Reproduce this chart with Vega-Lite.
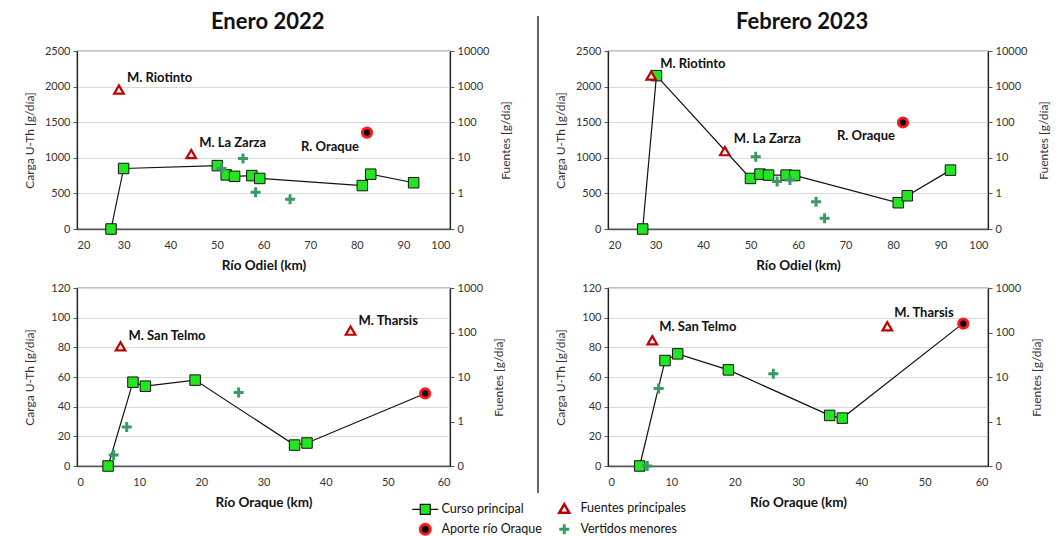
{
  "$schema": "https://vega.github.io/schema/vega-lite/v6.json",
  "padding": {"left": 22, "top": 11, "right": 0, "bottom": 0},
  "config": {
    "font": "Lato",
    "view": {"stroke": "#111", "strokeWidth": 1.2},
    "axis": {"labelFont": "Lato", "labelFontSize": 11, "labelColor": "#333", "titleFont": "Lato", "titleColor": "#333", "domainColor": "#595959", "tickColor": "#595959", "gridColor": "#d9d9d9", "titleFontWeight": "normal", "titleFontSize": 12, "labelOverlap": false},
    "axisX": {"ticks": false, "grid": false, "labelPadding": 10, "titleFontWeight": "bold", "titleFontSize": 13.5, "titleColor": "#111", "domainWidth": 1.6, "titlePadding": 8},
    "axisY": {"tickSize": 4, "labelPadding": 3, "domainColor": "#222", "domainWidth": 1.2},
    "point": {"opacity": 1}
  },
  "datasets": {
    "curso": [
      {"panel": "A", "km": 27.3, "carga": 0, "serie": "Curso principal"},
      {"panel": "A", "km": 30, "carga": 850, "serie": "Curso principal"},
      {"panel": "A", "km": 50.1, "carga": 890, "serie": "Curso principal"},
      {"panel": "A", "km": 52, "carga": 760, "serie": "Curso principal"},
      {"panel": "A", "km": 53.8, "carga": 740, "serie": "Curso principal"},
      {"panel": "A", "km": 57.5, "carga": 750, "serie": "Curso principal"},
      {"panel": "A", "km": 59.2, "carga": 710, "serie": "Curso principal"},
      {"panel": "A", "km": 81.2, "carga": 610, "serie": "Curso principal"},
      {"panel": "A", "km": 83, "carga": 770, "serie": "Curso principal"},
      {"panel": "A", "km": 92.2, "carga": 650, "serie": "Curso principal"},
      {"panel": "C", "km": 27.3, "carga": 0, "serie": "Curso principal"},
      {"panel": "C", "km": 30.2, "carga": 2154, "serie": "Curso principal"},
      {"panel": "C", "km": 50, "carga": 710, "serie": "Curso principal"},
      {"panel": "C", "km": 52, "carga": 771, "serie": "Curso principal"},
      {"panel": "C", "km": 53.8, "carga": 757, "serie": "Curso principal"},
      {"panel": "C", "km": 57.5, "carga": 757, "serie": "Curso principal"},
      {"panel": "C", "km": 59.3, "carga": 752, "serie": "Curso principal"},
      {"panel": "C", "km": 81.1, "carga": 369, "serie": "Curso principal"},
      {"panel": "C", "km": 83, "carga": 467, "serie": "Curso principal"},
      {"panel": "C", "km": 92.1, "carga": 827, "serie": "Curso principal"},
      {"panel": "B", "km": 5, "carga": 0, "serie": "Curso principal"},
      {"panel": "B", "km": 9, "carga": 56.5, "serie": "Curso principal"},
      {"panel": "B", "km": 11, "carga": 53.8, "serie": "Curso principal"},
      {"panel": "B", "km": 19, "carga": 57.9, "serie": "Curso principal"},
      {"panel": "B", "km": 35, "carga": 14.1, "serie": "Curso principal"},
      {"panel": "B", "km": 37, "carga": 15.5, "serie": "Curso principal"},
      {"panel": "B", "km": 56, "carga": 48.9, "serie": "Aporte río Oraque"},
      {"panel": "D", "km": 5, "carga": 0, "serie": "Curso principal"},
      {"panel": "D", "km": 9, "carga": 71.1, "serie": "Curso principal"},
      {"panel": "D", "km": 11, "carga": 75.6, "serie": "Curso principal"},
      {"panel": "D", "km": 19, "carga": 64.8, "serie": "Curso principal"},
      {"panel": "D", "km": 35, "carga": 34.1, "serie": "Curso principal"},
      {"panel": "D", "km": 37, "carga": 32.3, "serie": "Curso principal"},
      {"panel": "D", "km": 56, "carga": 96, "serie": "Aporte río Oraque"}
    ],
    "fuentes": [
      {"panel": "A", "km": 29, "fuentes": 830, "serie": "Fuentes principales", "etiqueta": "M. Riotinto"},
      {"panel": "A", "km": 44.5, "fuentes": 12.7, "serie": "Fuentes principales", "etiqueta": "M. La Zarza"},
      {"panel": "A", "km": 82.2, "fuentes": 51, "serie": "Aporte río Oraque", "etiqueta": "R. Oraque"},
      {"panel": "A", "km": 51, "fuentes": 5.0, "serie": "Vertidos menores", "etiqueta": ""},
      {"panel": "A", "km": 55.6, "fuentes": 9.5, "serie": "Vertidos menores", "etiqueta": ""},
      {"panel": "A", "km": 58.3, "fuentes": 1.07, "serie": "Vertidos menores", "etiqueta": ""},
      {"panel": "A", "km": 65.7, "fuentes": 0.69, "serie": "Vertidos menores", "etiqueta": ""},
      {"panel": "C", "km": 29.1, "fuentes": 2040, "serie": "Fuentes principales", "etiqueta": "M. Riotinto"},
      {"panel": "C", "km": 44.6, "fuentes": 15.4, "serie": "Fuentes principales", "etiqueta": "M. La Zarza"},
      {"panel": "C", "km": 82.1, "fuentes": 98, "serie": "Aporte río Oraque", "etiqueta": "R. Oraque"},
      {"panel": "C", "km": 51.1, "fuentes": 10.7, "serie": "Vertidos menores", "etiqueta": ""},
      {"panel": "C", "km": 55.6, "fuentes": 2.17, "serie": "Vertidos menores", "etiqueta": ""},
      {"panel": "C", "km": 58.3, "fuentes": 2.36, "serie": "Vertidos menores", "etiqueta": ""},
      {"panel": "C", "km": 63.8, "fuentes": 0.58, "serie": "Vertidos menores", "etiqueta": ""},
      {"panel": "C", "km": 65.6, "fuentes": 0.2, "serie": "Vertidos menores", "etiqueta": ""},
      {"panel": "B", "km": 7, "fuentes": 49, "serie": "Fuentes principales", "etiqueta": "M. San Telmo"},
      {"panel": "B", "km": 44, "fuentes": 110, "serie": "Fuentes principales", "etiqueta": "M. Tharsis"},
      {"panel": "B", "km": 56, "fuentes": 4.27, "serie": "Aporte río Oraque", "etiqueta": ""},
      {"panel": "B", "km": 5.9, "fuentes": 0.177, "serie": "Vertidos menores", "etiqueta": ""},
      {"panel": "B", "km": 8, "fuentes": 0.75, "serie": "Vertidos menores", "etiqueta": ""},
      {"panel": "B", "km": 26, "fuentes": 4.5, "serie": "Vertidos menores", "etiqueta": ""},
      {"panel": "D", "km": 7, "fuentes": 67, "serie": "Fuentes principales", "etiqueta": "M. San Telmo"},
      {"panel": "D", "km": 44.1, "fuentes": 138, "serie": "Fuentes principales", "etiqueta": "M. Tharsis"},
      {"panel": "D", "km": 56.1, "fuentes": 158, "serie": "Aporte río Oraque", "etiqueta": ""},
      {"panel": "D", "km": 6.2, "fuentes": 0.1, "serie": "Vertidos menores", "etiqueta": ""},
      {"panel": "D", "km": 8, "fuentes": 5.5, "serie": "Vertidos menores", "etiqueta": ""},
      {"panel": "D", "km": 26.1, "fuentes": 11.8, "serie": "Vertidos menores", "etiqueta": ""}
    ]
  },
  "spacing": 24,
  "hconcat": [
    {
      "title": {"text": "Enero 2022", "fontSize": 22, "fontWeight": "bold", "font": "Lato", "color": "#111", "anchor": "middle", "offset": 10},
      "spacing": 8,
      "vconcat": [
        {
          "width": 373, "height": 178,
          "resolve": {"scale": {"y": "independent"}},
          "layer": [
            {
              "data": {"name": "curso"},
              "transform": [{"filter": "datum.panel === 'A'"}],
              "encoding": {
                "x": {"field": "km", "type": "quantitative", "scale": {"domain": [20, 100]}, "axis": {"title": "Río Odiel (km)", "values": [20, 30, 40, 50, 60, 70, 80, 90, 100]}},
                "y": {"field": "carga", "type": "quantitative", "scale": {"domain": [0, 2500]}, "axis": {"title": "Carga U-Th [g/día]", "orient": "left", "values": [0, 500, 1000, 1500, 2000, 2500], "format": "d", "grid": true, "titlePadding": 8, "labelOverlap": false}}
              },
              "layer": [
                {"mark": {"type": "line", "color": "#111", "strokeWidth": 1.2}},
                {"transform": [{"filter": "datum.serie === 'Curso principal'"}], "mark": {"type": "point", "shape": "square", "filled": true, "size": 110, "strokeWidth": 1, "opacity": 1},
                 "encoding": {
                   "fill": {"field": "serie", "type": "nominal", "scale": {"domain": ["Curso principal", "Fuentes principales", "Aporte río Oraque", "Vertidos menores"], "range": ["#22e622", "#ffffff", "#000000", "#3a9a62"]}, "legend": {"title": null, "orient": "none", "legendX": 342, "legendY": 451, "columns": 2, "direction": "horizontal", "labelFont": "Lato", "labelFontSize": 12.5, "labelColor": "#111", "labelOffset": 10, "columnPadding": 12, "rowPadding": 0, "symbolSize": 100, "padding": 0, "encoding": {"symbols": {"strokeWidth": {"value": {"expr": "datum.value === 'Aporte río Oraque' ? 3 : datum.value === 'Fuentes principales' ? 2.5 : datum.value === 'Vertidos menores' ? 0 : 1.2"}}}}}},
                   "stroke": {"field": "serie", "type": "nominal", "scale": {"domain": ["Curso principal", "Fuentes principales", "Aporte río Oraque", "Vertidos menores"], "range": ["#111111", "#c00000", "#ff1a1a", "#3a9a62"]}, "legend": {"title": null, "orient": "none", "legendX": 342, "legendY": 451, "columns": 2, "direction": "horizontal", "labelFont": "Lato", "labelFontSize": 12.5, "labelColor": "#111", "labelOffset": 10, "columnPadding": 12, "rowPadding": 0, "symbolSize": 100, "padding": 0}}}},
                {"data": {"values": [{"letra": "A"}]}, "mark": {"type": "text", "align": "left", "baseline": "top", "dx": 10, "dy": 5, "fontSize": 20, "fontWeight": "bold", "color": "#111"}, "encoding": {"x": {"datum": 20, "type": "quantitative"}, "y": {"datum": 2500, "type": "quantitative"}, "text": {"field": "letra"}}}
              ]
            },
            {
              "data": {"name": "fuentes"},
              "transform": [{"filter": "datum.panel === 'A'"}],
              "encoding": {
                "x": {"field": "km", "type": "quantitative"},
                "y": {"field": "fuentes", "type": "quantitative", "scale": {"type": "log", "domain": [0.1, 10000]}, "axis": {"title": "Fuentes [g/día]", "orient": "right", "values": [0.1, 1, 10, 100, 1000, 10000], "labelExpr": "datum.value < 0.5 ? '0' : format(datum.value, 'd')", "grid": false, "titleAngle": 270, "titlePadding": 24, "labelOverlap": false}}
              },
              "layer": [
                {"mark": {"type": "point", "filled": true, "opacity": 1, "size": 90, "strokeWidth": 2.2}, "transform": [{"filter": "datum.serie === 'Fuentes principales'"}],
                 "encoding": {
                   "shape": {"field": "serie", "type": "nominal", "scale": {"domain": ["Curso principal", "Fuentes principales", "Aporte río Oraque", "Vertidos menores"], "range": ["M-2.6,0H-1M1,0H2.6M-1,-1H1V1H-1Z", "triangle-up", "circle", "M-0.3,-1H0.3V-0.3H1V0.3H0.3V1H-0.3V0.3H-1V-0.3H-0.3Z"]}, "legend": {"title": null, "orient": "none", "legendX": 342, "legendY": 451, "columns": 2, "direction": "horizontal", "labelFont": "Lato", "labelFontSize": 12.5, "labelColor": "#111", "labelOffset": 10, "columnPadding": 12, "rowPadding": 0, "symbolSize": 100, "padding": 0}},
                   "fill": {"field": "serie", "type": "nominal"}, "stroke": {"field": "serie", "type": "nominal"}}},
                {"mark": {"type": "point", "filled": true, "opacity": 1, "size": 85, "strokeWidth": 3}, "transform": [{"filter": "datum.serie === 'Aporte río Oraque'"}],
                 "encoding": {"shape": {"field": "serie", "type": "nominal"}, "fill": {"field": "serie", "type": "nominal"}, "stroke": {"field": "serie", "type": "nominal"}}},
                {"mark": {"type": "point", "filled": true, "opacity": 1, "size": 100, "strokeWidth": 0}, "transform": [{"filter": "datum.serie === 'Vertidos menores'"}],
                 "encoding": {"shape": {"field": "serie", "type": "nominal"}, "fill": {"field": "serie", "type": "nominal"}, "stroke": {"field": "serie", "type": "nominal"}}},
                {"mark": {"type": "text", "align": "left", "baseline": "middle", "dx": 8, "dy": -11, "fontSize": 13, "fontWeight": "bold", "color": "#111"}, "transform": [{"filter": "datum.serie === 'Fuentes principales'"}],
                 "encoding": {"text": {"field": "etiqueta"}}},
                {"mark": {"type": "text", "align": "right", "baseline": "middle", "dx": -8, "dy": 14, "fontSize": 13, "fontWeight": "bold", "color": "#111"}, "transform": [{"filter": "datum.serie === 'Aporte río Oraque'"}],
                 "encoding": {"text": {"field": "etiqueta"}}}
              ]
            }
          ]
        },
        {
          "width": 373, "height": 178,
          "resolve": {"scale": {"y": "independent"}},
          "layer": [
            {
              "data": {"name": "curso"},
              "transform": [{"filter": "datum.panel === 'B'"}],
              "encoding": {
                "x": {"field": "km", "type": "quantitative", "scale": {"domain": [0, 60]}, "axis": {"title": "Río Oraque (km)", "values": [0, 10, 20, 30, 40, 50, 60]}},
                "y": {"field": "carga", "type": "quantitative", "scale": {"domain": [0, 120]}, "axis": {"title": "Carga U-Th [g/día]", "orient": "left", "values": [0, 20, 40, 60, 80, 100, 120], "format": "d", "grid": true, "titlePadding": 14, "labelOverlap": false}}
              },
              "layer": [
                {"mark": {"type": "line", "color": "#111", "strokeWidth": 1.2}},
                {"transform": [{"filter": "datum.serie === 'Curso principal'"}], "mark": {"type": "point", "shape": "square", "filled": true, "size": 110, "strokeWidth": 1, "opacity": 1},
                 "encoding": {"fill": {"field": "serie", "type": "nominal"}, "stroke": {"field": "serie", "type": "nominal"}}},
                {"data": {"values": [{"letra": "B"}]}, "mark": {"type": "text", "align": "left", "baseline": "top", "dx": 11, "dy": 7, "fontSize": 20, "fontWeight": "bold", "color": "#111"}, "encoding": {"x": {"datum": 0, "type": "quantitative"}, "y": {"datum": 120, "type": "quantitative"}, "text": {"field": "letra"}}}
              ]
            },
            {
              "data": {"name": "fuentes"},
              "transform": [{"filter": "datum.panel === 'B'"}],
              "encoding": {
                "x": {"field": "km", "type": "quantitative"},
                "y": {"field": "fuentes", "type": "quantitative", "scale": {"type": "log", "domain": [0.1, 1000]}, "axis": {"title": "Fuentes [g/día]", "orient": "right", "values": [0.1, 1, 10, 100, 1000], "labelExpr": "datum.value < 0.5 ? '0' : format(datum.value, 'd')", "grid": false, "titleAngle": 270, "titlePadding": 23, "labelOverlap": false}}
              },
              "layer": [
                {"mark": {"type": "point", "filled": true, "opacity": 1, "size": 90, "strokeWidth": 2.2}, "transform": [{"filter": "datum.serie === 'Fuentes principales'"}],
                 "encoding": {"shape": {"field": "serie", "type": "nominal"}, "fill": {"field": "serie", "type": "nominal"}, "stroke": {"field": "serie", "type": "nominal"}}},
                {"mark": {"type": "point", "filled": true, "opacity": 1, "size": 85, "strokeWidth": 3}, "transform": [{"filter": "datum.serie === 'Aporte río Oraque'"}],
                 "encoding": {"shape": {"field": "serie", "type": "nominal"}, "fill": {"field": "serie", "type": "nominal"}, "stroke": {"field": "serie", "type": "nominal"}}},
                {"mark": {"type": "point", "filled": true, "opacity": 1, "size": 100, "strokeWidth": 0}, "transform": [{"filter": "datum.serie === 'Vertidos menores'"}],
                 "encoding": {"shape": {"field": "serie", "type": "nominal"}, "fill": {"field": "serie", "type": "nominal"}, "stroke": {"field": "serie", "type": "nominal"}}},
                {"mark": {"type": "text", "align": "left", "baseline": "middle", "dx": 8, "dy": -10, "fontSize": 13, "fontWeight": "bold", "color": "#111"}, "transform": [{"filter": "datum.serie === 'Fuentes principales'"}],
                 "encoding": {"text": {"field": "etiqueta"}}}
              ]
            }
          ]
        }
      ]
    },
    {
      "spacing": 14,
      "hconcat": [
        {
          "width": 1, "height": 442,
          "view": {"stroke": null},
          "data": {"values": [{"tramo": "divisor"}]},
          "mark": {"type": "rule", "color": "#111", "strokeWidth": 1.3},
          "encoding": {"x": {"datum": 0, "type": "quantitative", "scale": {"domain": [0, 1]}, "axis": null}, "y": {"datum": 1.079, "type": "quantitative", "scale": {"domain": [0, 1]}, "axis": null}, "y2": {"datum": 0}}
        },
        {
          "title": {"text": "Febrero 2023", "fontSize": 22, "fontWeight": "bold", "font": "Lato", "color": "#111", "anchor": "middle", "offset": 10},
          "spacing": 8,
          "vconcat": [
            {
              "width": 380, "height": 178,
              "resolve": {"scale": {"y": "independent"}},
              "layer": [
                {
                  "data": {"name": "curso"},
                  "transform": [{"filter": "datum.panel === 'C'"}],
                  "encoding": {
                    "x": {"field": "km", "type": "quantitative", "scale": {"domain": [20, 100]}, "axis": {"title": "Río Odiel (km)", "values": [20, 30, 40, 50, 60, 70, 80, 90, 100]}},
                    "y": {"field": "carga", "type": "quantitative", "scale": {"domain": [0, 2500]}, "axis": {"title": "Carga U-Th [g/día]", "orient": "left", "values": [0, 500, 1000, 1500, 2000, 2500], "format": "d", "grid": true, "titlePadding": 8, "labelOverlap": false}}
                  },
                  "layer": [
                    {"mark": {"type": "line", "color": "#111", "strokeWidth": 1.2}},
                    {"transform": [{"filter": "datum.serie === 'Curso principal'"}], "mark": {"type": "point", "shape": "square", "filled": true, "size": 110, "strokeWidth": 1, "opacity": 1},
                     "encoding": {"fill": {"field": "serie", "type": "nominal"}, "stroke": {"field": "serie", "type": "nominal"}}},
                    {"data": {"values": [{"letra": "C"}]}, "mark": {"type": "text", "align": "left", "baseline": "top", "dx": 10, "dy": 5, "fontSize": 20, "fontWeight": "bold", "color": "#111"}, "encoding": {"x": {"datum": 20, "type": "quantitative"}, "y": {"datum": 2500, "type": "quantitative"}, "text": {"field": "letra"}}}
                  ]
                },
                {
                  "data": {"name": "fuentes"},
                  "transform": [{"filter": "datum.panel === 'C'"}],
                  "encoding": {
                    "x": {"field": "km", "type": "quantitative"},
                    "y": {"field": "fuentes", "type": "quantitative", "scale": {"type": "log", "domain": [0.1, 10000]}, "axis": {"title": "Fuentes [g/día]", "orient": "right", "values": [0.1, 1, 10, 100, 1000, 10000], "labelExpr": "datum.value < 0.5 ? '0' : format(datum.value, 'd')", "grid": false, "titleAngle": 270, "titlePadding": 24, "labelOverlap": false}}
                  },
                  "layer": [
                    {"mark": {"type": "point", "filled": true, "opacity": 1, "size": 90, "strokeWidth": 2.2}, "transform": [{"filter": "datum.serie === 'Fuentes principales'"}],
                     "encoding": {"shape": {"field": "serie", "type": "nominal"}, "fill": {"field": "serie", "type": "nominal"}, "stroke": {"field": "serie", "type": "nominal"}}},
                    {"mark": {"type": "point", "filled": true, "opacity": 1, "size": 85, "strokeWidth": 3}, "transform": [{"filter": "datum.serie === 'Aporte río Oraque'"}],
                     "encoding": {"shape": {"field": "serie", "type": "nominal"}, "fill": {"field": "serie", "type": "nominal"}, "stroke": {"field": "serie", "type": "nominal"}}},
                    {"mark": {"type": "point", "filled": true, "opacity": 1, "size": 100, "strokeWidth": 0}, "transform": [{"filter": "datum.serie === 'Vertidos menores'"}],
                     "encoding": {"shape": {"field": "serie", "type": "nominal"}, "fill": {"field": "serie", "type": "nominal"}, "stroke": {"field": "serie", "type": "nominal"}}},
                    {"mark": {"type": "text", "align": "left", "baseline": "middle", "dx": 9, "dy": -12, "fontSize": 13, "fontWeight": "bold", "color": "#111"}, "transform": [{"filter": "datum.serie === 'Fuentes principales'"}],
                     "encoding": {"text": {"field": "etiqueta"}}},
                    {"mark": {"type": "text", "align": "right", "baseline": "middle", "dx": -8, "dy": 13, "fontSize": 13, "fontWeight": "bold", "color": "#111"}, "transform": [{"filter": "datum.serie === 'Aporte río Oraque'"}],
                     "encoding": {"text": {"field": "etiqueta"}}}
                  ]
                }
              ]
            },
            {
              "width": 380, "height": 178,
              "resolve": {"scale": {"y": "independent"}},
              "layer": [
                {
                  "data": {"name": "curso"},
                  "transform": [{"filter": "datum.panel === 'D'"}],
                  "encoding": {
                    "x": {"field": "km", "type": "quantitative", "scale": {"domain": [0, 60]}, "axis": {"title": "Río Oraque (km)", "values": [0, 10, 20, 30, 40, 50, 60]}},
                    "y": {"field": "carga", "type": "quantitative", "scale": {"domain": [0, 120]}, "axis": {"title": "Carga U-Th [g/día]", "orient": "left", "values": [0, 20, 40, 60, 80, 100, 120], "format": "d", "grid": true, "titlePadding": 14, "labelOverlap": false}}
                  },
                  "layer": [
                    {"mark": {"type": "line", "color": "#111", "strokeWidth": 1.2}},
                    {"transform": [{"filter": "datum.serie === 'Curso principal'"}], "mark": {"type": "point", "shape": "square", "filled": true, "size": 110, "strokeWidth": 1, "opacity": 1},
                     "encoding": {"fill": {"field": "serie", "type": "nominal"}, "stroke": {"field": "serie", "type": "nominal"}}},
                    {"data": {"values": [{"letra": "D"}]}, "mark": {"type": "text", "align": "left", "baseline": "top", "dx": 11, "dy": 7, "fontSize": 20, "fontWeight": "bold", "color": "#111"}, "encoding": {"x": {"datum": 0, "type": "quantitative"}, "y": {"datum": 120, "type": "quantitative"}, "text": {"field": "letra"}}}
                  ]
                },
                {
                  "data": {"name": "fuentes"},
                  "transform": [{"filter": "datum.panel === 'D'"}],
                  "encoding": {
                    "x": {"field": "km", "type": "quantitative"},
                    "y": {"field": "fuentes", "type": "quantitative", "scale": {"type": "log", "domain": [0.1, 1000]}, "axis": {"title": "Fuentes [g/día]", "orient": "right", "values": [0.1, 1, 10, 100, 1000], "labelExpr": "datum.value < 0.5 ? '0' : format(datum.value, 'd')", "grid": false, "titleAngle": 270, "titlePadding": 23, "labelOverlap": false}}
                  },
                  "layer": [
                    {"mark": {"type": "point", "filled": true, "opacity": 1, "size": 90, "strokeWidth": 2.2}, "transform": [{"filter": "datum.serie === 'Fuentes principales'"}],
                     "encoding": {"shape": {"field": "serie", "type": "nominal"}, "fill": {"field": "serie", "type": "nominal"}, "stroke": {"field": "serie", "type": "nominal"}}},
                    {"mark": {"type": "point", "filled": true, "opacity": 1, "size": 85, "strokeWidth": 3}, "transform": [{"filter": "datum.serie === 'Aporte río Oraque'"}],
                     "encoding": {"shape": {"field": "serie", "type": "nominal"}, "fill": {"field": "serie", "type": "nominal"}, "stroke": {"field": "serie", "type": "nominal"}}},
                    {"mark": {"type": "point", "filled": true, "opacity": 1, "size": 100, "strokeWidth": 0}, "transform": [{"filter": "datum.serie === 'Vertidos menores'"}],
                     "encoding": {"shape": {"field": "serie", "type": "nominal"}, "fill": {"field": "serie", "type": "nominal"}, "stroke": {"field": "serie", "type": "nominal"}}},
                    {"mark": {"type": "text", "align": "left", "baseline": "middle", "dx": 7, "dy": -13, "fontSize": 13, "fontWeight": "bold", "color": "#111"}, "transform": [{"filter": "datum.serie === 'Fuentes principales'"}],
                     "encoding": {"text": {"field": "etiqueta"}}}
                  ]
                }
              ]
            }
          ]
        }
      ]
    }
  ]
}
